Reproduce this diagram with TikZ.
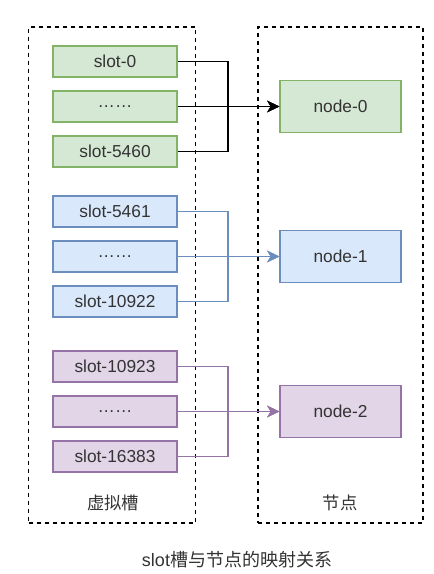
\documentclass[tikz,border=0pt]{standalone}
\usepackage{fontspec}
\setmainfont{Liberation Sans}
\newfontfamily\cjk{Noto Sans CJK SC}
\usetikzlibrary{arrows.meta}
\definecolor{gfill}{HTML}{D5E8D4}\definecolor{gline}{HTML}{82B366}
\definecolor{bfill}{HTML}{DAE8FC}\definecolor{bline}{HTML}{6C8EBF}
\definecolor{pfill}{HTML}{E1D5E7}\definecolor{pline}{HTML}{9673A6}
\definecolor{txt}{HTML}{333333}
\tikzset{
  slotbox/.style={draw, line width=1pt, minimum width=93pt, minimum height=23.25pt, inner sep=0pt, font=\fontsize{13}{15}\selectfont, text=txt},
  nodebox/.style={draw, line width=1pt, minimum width=90.75pt, minimum height=39pt, inner sep=0pt, font=\fontsize{13}{15}\selectfont, text=txt},
  grp/.style={draw, dash pattern=on 3pt off 3pt, line width=1pt},
  link/.style={line width=1pt},
  tip/.style={-{Stealth[length=9pt,width=8.5pt,inset=2.5pt]}},
  lbl/.style={font=\cjk\fontsize{13}{15}\selectfont, text=txt, inner sep=0pt},
}
\begin{document}
\begin{tikzpicture}[x=0.75pt,y=-0.75pt]
\useasboundingbox (0,0) rectangle (433,574);
% group frames
\node[grp, minimum width=125.25pt, minimum height=372pt, inner sep=0pt] (gl) at (112,275) {};
\node[grp, minimum width=123.75pt, minimum height=372pt, inner sep=0pt] (gr) at (340.5,275) {};
% green
\node[slotbox, fill=gfill, draw=gline] (s0) at (115,61.5) {slot-0};
\node[slotbox, fill=gfill, draw=gline] (d0) at (115,106.5) {……};
\node[slotbox, fill=gfill, draw=gline] (e0) at (115,151.5) {slot-5460};
\node[nodebox, fill=gfill, draw=gline] (n0) at (340.5,106.5) {node-0};
% blue
\node[slotbox, fill=bfill, draw=bline] (s1) at (115,211.5) {slot-5461};
\node[slotbox, fill=bfill, draw=bline] (d1) at (115,256.5) {……};
\node[slotbox, fill=bfill, draw=bline] (e1) at (115,301.5) {slot-10922};
\node[nodebox, fill=bfill, draw=bline] (n1) at (340.5,256.5) {node-1};
% purple
\node[slotbox, fill=pfill, draw=pline] (s2) at (115,366.5) {slot-10923};
\node[slotbox, fill=pfill, draw=pline] (d2) at (115,411.5) {……};
\node[slotbox, fill=pfill, draw=pline] (e2) at (115,456.5) {slot-16383};
\node[nodebox, fill=pfill, draw=pline] (n2) at (340.5,411.5) {node-2};
% merge points
\coordinate (m0) at (228,106.5);
\coordinate (m1) at (228,256.5);
\coordinate (m2) at (228,411.5);
% connectors
\draw[link, tip, black] (s0.east) -| (m0) -- (n0.west);
\draw[link, tip, black] (e0.east) -| (m0) -- (n0.west);
\draw[link, tip, black] (d0.east) -- (n0.west);
\draw[link, tip, bline] (s1.east) -| (m1) -- (n1.west);
\draw[link, tip, bline] (e1.east) -| (m1) -- (n1.west);
\draw[link, tip, bline] (d1.east) -- (n1.west);
\draw[link, tip, pline] (s2.east) -| (m2) -- (n2.west);
\draw[link, tip, pline] (e2.east) -| (m2) -- (n2.west);
\draw[link, tip, pline] (d2.east) -- (n2.west);
% labels
\node[lbl] (l1) at (113,503) {虚拟槽};
\node[lbl] (l2) at (340,503) {节点};
\node[lbl, font=\fontsize{13.5}{15}\selectfont, text=txt] (cap) at (237,560) {slot{\cjk 槽与节点的映射关系}};
\end{tikzpicture}
\end{document}
